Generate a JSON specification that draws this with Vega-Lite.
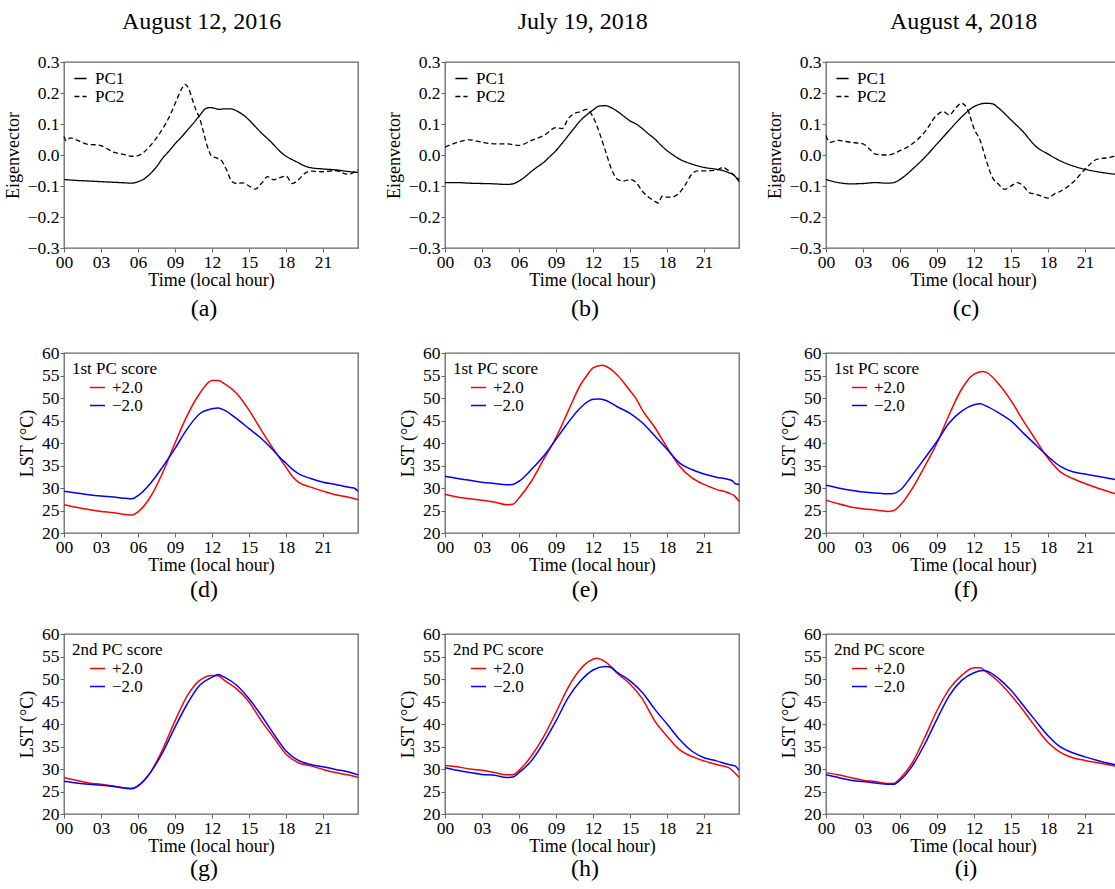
{
"$schema":"https://vega.github.io/schema/vega-lite/v6.json",
"padding":{"left":3,"top":10,"right":0,"bottom":0},
"datasets":{
"a":[
{"h":0,"v":-0.079,"s":"PC1"},{"h":1,"v":-0.082,"s":"PC1"},{"h":2,"v":-0.084,"s":"PC1"},{"h":3,"v":-0.086,"s":"PC1"},{"h":4,"v":-0.088,"s":"PC1"},{"h":5,"v":-0.09,"s":"PC1"},{"h":5.5,"v":-0.091,"s":"PC1"},{"h":6,"v":-0.086,"s":"PC1"},{"h":6.5,"v":-0.077,"s":"PC1"},{"h":7,"v":-0.06,"s":"PC1"},{"h":7.5,"v":-0.038,"s":"PC1"},{"h":8,"v":-0.01,"s":"PC1"},{"h":8.5,"v":0.012,"s":"PC1"},{"h":9,"v":0.036,"s":"PC1"},{"h":9.5,"v":0.057,"s":"PC1"},{"h":10,"v":0.08,"s":"PC1"},{"h":10.5,"v":0.103,"s":"PC1"},{"h":11,"v":0.128,"s":"PC1"},{"h":11.5,"v":0.15,"s":"PC1"},{"h":11.8,"v":0.153,"s":"PC1"},{"h":12.2,"v":0.151,"s":"PC1"},{"h":12.6,"v":0.147,"s":"PC1"},{"h":13,"v":0.149,"s":"PC1"},{"h":13.5,"v":0.149,"s":"PC1"},{"h":14,"v":0.142,"s":"PC1"},{"h":14.5,"v":0.13,"s":"PC1"},{"h":15,"v":0.113,"s":"PC1"},{"h":15.5,"v":0.092,"s":"PC1"},{"h":16,"v":0.071,"s":"PC1"},{"h":16.5,"v":0.053,"s":"PC1"},{"h":17,"v":0.033,"s":"PC1"},{"h":17.5,"v":0.012,"s":"PC1"},{"h":18,"v":-0.004,"s":"PC1"},{"h":18.5,"v":-0.015,"s":"PC1"},{"h":19,"v":-0.025,"s":"PC1"},{"h":19.5,"v":-0.035,"s":"PC1"},{"h":20,"v":-0.041,"s":"PC1"},{"h":21,"v":-0.045,"s":"PC1"},{"h":22,"v":-0.048,"s":"PC1"},{"h":23,"v":-0.053,"s":"PC1"},{"h":23.833,"v":-0.056,"s":"PC1"},
{"h":0,"v":0.06,"s":"PC2"},{"h":0.2,"v":0.045,"s":"PC2"},{"h":0.5,"v":0.055,"s":"PC2"},{"h":1,"v":0.049,"s":"PC2"},{"h":1.5,"v":0.04,"s":"PC2"},{"h":2,"v":0.034,"s":"PC2"},{"h":2.5,"v":0.033,"s":"PC2"},{"h":3,"v":0.03,"s":"PC2"},{"h":3.5,"v":0.02,"s":"PC2"},{"h":4,"v":0.009,"s":"PC2"},{"h":4.5,"v":0.005,"s":"PC2"},{"h":5,"v":0.0,"s":"PC2"},{"h":5.5,"v":-0.004,"s":"PC2"},{"h":6,"v":-0.002,"s":"PC2"},{"h":6.5,"v":0.01,"s":"PC2"},{"h":7,"v":0.03,"s":"PC2"},{"h":7.5,"v":0.055,"s":"PC2"},{"h":8,"v":0.085,"s":"PC2"},{"h":8.5,"v":0.12,"s":"PC2"},{"h":9,"v":0.165,"s":"PC2"},{"h":9.5,"v":0.21,"s":"PC2"},{"h":9.8,"v":0.228,"s":"PC2"},{"h":10.1,"v":0.215,"s":"PC2"},{"h":10.4,"v":0.18,"s":"PC2"},{"h":10.7,"v":0.145,"s":"PC2"},{"h":11,"v":0.118,"s":"PC2"},{"h":11.3,"v":0.075,"s":"PC2"},{"h":11.6,"v":0.03,"s":"PC2"},{"h":12,"v":-0.005,"s":"PC2"},{"h":12.4,"v":-0.01,"s":"PC2"},{"h":12.8,"v":-0.02,"s":"PC2"},{"h":13.2,"v":-0.05,"s":"PC2"},{"h":13.6,"v":-0.085,"s":"PC2"},{"h":14,"v":-0.092,"s":"PC2"},{"h":14.5,"v":-0.09,"s":"PC2"},{"h":15,"v":-0.1,"s":"PC2"},{"h":15.5,"v":-0.11,"s":"PC2"},{"h":16,"v":-0.092,"s":"PC2"},{"h":16.5,"v":-0.07,"s":"PC2"},{"h":17,"v":-0.08,"s":"PC2"},{"h":17.5,"v":-0.073,"s":"PC2"},{"h":18,"v":-0.068,"s":"PC2"},{"h":18.5,"v":-0.092,"s":"PC2"},{"h":19,"v":-0.08,"s":"PC2"},{"h":19.5,"v":-0.06,"s":"PC2"},{"h":20,"v":-0.052,"s":"PC2"},{"h":21,"v":-0.054,"s":"PC2"},{"h":22,"v":-0.05,"s":"PC2"},{"h":23,"v":-0.062,"s":"PC2"},{"h":23.833,"v":-0.048,"s":"PC2"}
],
"b":[
{"h":0,"v":-0.089,"s":"PC1"},{"h":1,"v":-0.089,"s":"PC1"},{"h":2,"v":-0.091,"s":"PC1"},{"h":3,"v":-0.092,"s":"PC1"},{"h":4,"v":-0.093,"s":"PC1"},{"h":5,"v":-0.095,"s":"PC1"},{"h":5.5,"v":-0.093,"s":"PC1"},{"h":6,"v":-0.084,"s":"PC1"},{"h":6.5,"v":-0.07,"s":"PC1"},{"h":7,"v":-0.053,"s":"PC1"},{"h":7.5,"v":-0.038,"s":"PC1"},{"h":8,"v":-0.024,"s":"PC1"},{"h":8.5,"v":-0.005,"s":"PC1"},{"h":9,"v":0.014,"s":"PC1"},{"h":9.5,"v":0.038,"s":"PC1"},{"h":10,"v":0.063,"s":"PC1"},{"h":10.5,"v":0.088,"s":"PC1"},{"h":11,"v":0.112,"s":"PC1"},{"h":11.5,"v":0.13,"s":"PC1"},{"h":12,"v":0.145,"s":"PC1"},{"h":12.5,"v":0.158,"s":"PC1"},{"h":13,"v":0.159,"s":"PC1"},{"h":13.5,"v":0.152,"s":"PC1"},{"h":14,"v":0.14,"s":"PC1"},{"h":14.5,"v":0.125,"s":"PC1"},{"h":15,"v":0.11,"s":"PC1"},{"h":15.5,"v":0.1,"s":"PC1"},{"h":16,"v":0.085,"s":"PC1"},{"h":16.5,"v":0.068,"s":"PC1"},{"h":17,"v":0.052,"s":"PC1"},{"h":17.5,"v":0.032,"s":"PC1"},{"h":18,"v":0.014,"s":"PC1"},{"h":18.5,"v":0.0,"s":"PC1"},{"h":19,"v":-0.013,"s":"PC1"},{"h":19.5,"v":-0.022,"s":"PC1"},{"h":20,"v":-0.029,"s":"PC1"},{"h":20.5,"v":-0.035,"s":"PC1"},{"h":21,"v":-0.04,"s":"PC1"},{"h":22,"v":-0.046,"s":"PC1"},{"h":22.5,"v":-0.05,"s":"PC1"},{"h":23,"v":-0.057,"s":"PC1"},{"h":23.5,"v":-0.068,"s":"PC1"},{"h":23.833,"v":-0.086,"s":"PC1"},
{"h":0,"v":0.025,"s":"PC2"},{"h":1,"v":0.041,"s":"PC2"},{"h":2,"v":0.049,"s":"PC2"},{"h":3,"v":0.041,"s":"PC2"},{"h":4,"v":0.036,"s":"PC2"},{"h":5,"v":0.036,"s":"PC2"},{"h":6,"v":0.031,"s":"PC2"},{"h":7,"v":0.047,"s":"PC2"},{"h":8,"v":0.063,"s":"PC2"},{"h":9,"v":0.088,"s":"PC2"},{"h":9.5,"v":0.085,"s":"PC2"},{"h":10,"v":0.118,"s":"PC2"},{"h":10.5,"v":0.134,"s":"PC2"},{"h":11,"v":0.14,"s":"PC2"},{"h":11.5,"v":0.147,"s":"PC2"},{"h":12,"v":0.123,"s":"PC2"},{"h":12.5,"v":0.074,"s":"PC2"},{"h":13,"v":0.014,"s":"PC2"},{"h":13.5,"v":-0.046,"s":"PC2"},{"h":14,"v":-0.079,"s":"PC2"},{"h":14.5,"v":-0.084,"s":"PC2"},{"h":15,"v":-0.079,"s":"PC2"},{"h":15.5,"v":-0.089,"s":"PC2"},{"h":16,"v":-0.117,"s":"PC2"},{"h":17,"v":-0.149,"s":"PC2"},{"h":17.3,"v":-0.155,"s":"PC2"},{"h":17.6,"v":-0.133,"s":"PC2"},{"h":18,"v":-0.136,"s":"PC2"},{"h":18.5,"v":-0.135,"s":"PC2"},{"h":19,"v":-0.122,"s":"PC2"},{"h":19.5,"v":-0.095,"s":"PC2"},{"h":20,"v":-0.062,"s":"PC2"},{"h":20.5,"v":-0.051,"s":"PC2"},{"h":21,"v":-0.051,"s":"PC2"},{"h":22,"v":-0.049,"s":"PC2"},{"h":22.5,"v":-0.04,"s":"PC2"},{"h":23,"v":-0.051,"s":"PC2"},{"h":23.5,"v":-0.068,"s":"PC2"},{"h":23.833,"v":-0.079,"s":"PC2"}
],
"c":[
{"h":0,"v":-0.079,"s":"PC1"},{"h":1,"v":-0.089,"s":"PC1"},{"h":2,"v":-0.093,"s":"PC1"},{"h":3,"v":-0.092,"s":"PC1"},{"h":4,"v":-0.089,"s":"PC1"},{"h":5,"v":-0.091,"s":"PC1"},{"h":5.5,"v":-0.089,"s":"PC1"},{"h":6,"v":-0.079,"s":"PC1"},{"h":7,"v":-0.046,"s":"PC1"},{"h":8,"v":-0.008,"s":"PC1"},{"h":9,"v":0.036,"s":"PC1"},{"h":10,"v":0.08,"s":"PC1"},{"h":11,"v":0.123,"s":"PC1"},{"h":12,"v":0.156,"s":"PC1"},{"h":12.5,"v":0.164,"s":"PC1"},{"h":13,"v":0.167,"s":"PC1"},{"h":13.5,"v":0.165,"s":"PC1"},{"h":14,"v":0.151,"s":"PC1"},{"h":15,"v":0.113,"s":"PC1"},{"h":16,"v":0.074,"s":"PC1"},{"h":17,"v":0.028,"s":"PC1"},{"h":18,"v":0.003,"s":"PC1"},{"h":19,"v":-0.019,"s":"PC1"},{"h":20,"v":-0.035,"s":"PC1"},{"h":21,"v":-0.046,"s":"PC1"},{"h":22,"v":-0.054,"s":"PC1"},{"h":23,"v":-0.06,"s":"PC1"},{"h":23.833,"v":-0.064,"s":"PC1"},
{"h":0,"v":0.063,"s":"PC2"},{"h":0.3,"v":0.041,"s":"PC2"},{"h":1,"v":0.047,"s":"PC2"},{"h":2,"v":0.041,"s":"PC2"},{"h":3,"v":0.036,"s":"PC2"},{"h":3.5,"v":0.02,"s":"PC2"},{"h":4,"v":0.003,"s":"PC2"},{"h":5,"v":0.0,"s":"PC2"},{"h":6,"v":0.014,"s":"PC2"},{"h":7,"v":0.036,"s":"PC2"},{"h":8,"v":0.074,"s":"PC2"},{"h":9,"v":0.129,"s":"PC2"},{"h":9.5,"v":0.14,"s":"PC2"},{"h":10,"v":0.129,"s":"PC2"},{"h":10.5,"v":0.151,"s":"PC2"},{"h":11,"v":0.167,"s":"PC2"},{"h":11.5,"v":0.145,"s":"PC2"},{"h":12,"v":0.085,"s":"PC2"},{"h":12.5,"v":0.047,"s":"PC2"},{"h":13,"v":-0.019,"s":"PC2"},{"h":13.5,"v":-0.073,"s":"PC2"},{"h":14,"v":-0.095,"s":"PC2"},{"h":14.5,"v":-0.111,"s":"PC2"},{"h":15,"v":-0.1,"s":"PC2"},{"h":15.5,"v":-0.089,"s":"PC2"},{"h":16,"v":-0.1,"s":"PC2"},{"h":16.5,"v":-0.122,"s":"PC2"},{"h":17,"v":-0.126,"s":"PC2"},{"h":17.5,"v":-0.133,"s":"PC2"},{"h":18,"v":-0.139,"s":"PC2"},{"h":18.5,"v":-0.126,"s":"PC2"},{"h":19,"v":-0.117,"s":"PC2"},{"h":20,"v":-0.089,"s":"PC2"},{"h":21,"v":-0.046,"s":"PC2"},{"h":22,"v":-0.013,"s":"PC2"},{"h":23,"v":-0.008,"s":"PC2"},{"h":23.833,"v":0.003,"s":"PC2"}
],
"d":[
{"h":0,"v":26.3,"s":"+2.0"},{"h":1,"v":25.7,"s":"+2.0"},{"h":2,"v":25.2,"s":"+2.0"},{"h":3,"v":24.8,"s":"+2.0"},{"h":4,"v":24.5,"s":"+2.0"},{"h":5,"v":24.1,"s":"+2.0"},{"h":5.5,"v":24.0,"s":"+2.0"},{"h":6,"v":24.7,"s":"+2.0"},{"h":7,"v":28.0,"s":"+2.0"},{"h":8,"v":33.4,"s":"+2.0"},{"h":9,"v":40.0,"s":"+2.0"},{"h":10,"v":46.2,"s":"+2.0"},{"h":11,"v":51.0,"s":"+2.0"},{"h":12,"v":53.9,"s":"+2.0"},{"h":12.5,"v":53.9,"s":"+2.0"},{"h":13,"v":53.2,"s":"+2.0"},{"h":14,"v":51.0,"s":"+2.0"},{"h":15,"v":47.3,"s":"+2.0"},{"h":16,"v":42.8,"s":"+2.0"},{"h":17,"v":38.6,"s":"+2.0"},{"h":17.5,"v":36.6,"s":"+2.0"},{"h":18,"v":34.6,"s":"+2.0"},{"h":18.5,"v":32.6,"s":"+2.0"},{"h":19,"v":31.3,"s":"+2.0"},{"h":20,"v":30.2,"s":"+2.0"},{"h":21,"v":29.3,"s":"+2.0"},{"h":22,"v":28.5,"s":"+2.0"},{"h":23,"v":28.0,"s":"+2.0"},{"h":23.833,"v":27.4,"s":"+2.0"},
{"h":0,"v":29.3,"s":"−2.0"},{"h":1,"v":28.9,"s":"−2.0"},{"h":2,"v":28.5,"s":"−2.0"},{"h":3,"v":28.2,"s":"−2.0"},{"h":4,"v":28.0,"s":"−2.0"},{"h":5,"v":27.7,"s":"−2.0"},{"h":5.5,"v":27.6,"s":"−2.0"},{"h":6,"v":28.3,"s":"−2.0"},{"h":7,"v":31.0,"s":"−2.0"},{"h":8,"v":34.7,"s":"−2.0"},{"h":9,"v":38.8,"s":"−2.0"},{"h":10,"v":43.2,"s":"−2.0"},{"h":11,"v":46.5,"s":"−2.0"},{"h":12,"v":47.6,"s":"−2.0"},{"h":12.5,"v":47.8,"s":"−2.0"},{"h":13,"v":47.3,"s":"−2.0"},{"h":14,"v":45.4,"s":"−2.0"},{"h":15,"v":43.2,"s":"−2.0"},{"h":16,"v":41.0,"s":"−2.0"},{"h":17,"v":38.3,"s":"−2.0"},{"h":17.5,"v":36.8,"s":"−2.0"},{"h":18,"v":35.5,"s":"−2.0"},{"h":18.5,"v":34.2,"s":"−2.0"},{"h":19,"v":33.2,"s":"−2.0"},{"h":20,"v":32.1,"s":"−2.0"},{"h":21,"v":31.3,"s":"−2.0"},{"h":22,"v":30.8,"s":"−2.0"},{"h":23,"v":30.2,"s":"−2.0"},{"h":23.5,"v":30.0,"s":"−2.0"},{"h":23.833,"v":29.3,"s":"−2.0"}
],
"e":[
{"h":0,"v":28.6,"s":"+2.0"},{"h":1,"v":28.0,"s":"+2.0"},{"h":2,"v":27.6,"s":"+2.0"},{"h":3,"v":27.3,"s":"+2.0"},{"h":4,"v":26.9,"s":"+2.0"},{"h":5,"v":26.3,"s":"+2.0"},{"h":5.5,"v":26.4,"s":"+2.0"},{"h":6,"v":27.8,"s":"+2.0"},{"h":7,"v":31.5,"s":"+2.0"},{"h":8,"v":36.4,"s":"+2.0"},{"h":9,"v":41.2,"s":"+2.0"},{"h":10,"v":47.2,"s":"+2.0"},{"h":11,"v":53.0,"s":"+2.0"},{"h":11.5,"v":55.0,"s":"+2.0"},{"h":12,"v":56.7,"s":"+2.0"},{"h":12.7,"v":57.3,"s":"+2.0"},{"h":13,"v":57.1,"s":"+2.0"},{"h":14,"v":55.0,"s":"+2.0"},{"h":15,"v":51.6,"s":"+2.0"},{"h":15.5,"v":49.8,"s":"+2.0"},{"h":16,"v":47.3,"s":"+2.0"},{"h":17,"v":43.5,"s":"+2.0"},{"h":18,"v":39.0,"s":"+2.0"},{"h":19,"v":34.9,"s":"+2.0"},{"h":20,"v":32.3,"s":"+2.0"},{"h":21,"v":30.8,"s":"+2.0"},{"h":22,"v":29.7,"s":"+2.0"},{"h":23,"v":28.9,"s":"+2.0"},{"h":23.5,"v":28.2,"s":"+2.0"},{"h":23.833,"v":27.0,"s":"+2.0"},
{"h":0,"v":32.6,"s":"−2.0"},{"h":1,"v":32.1,"s":"−2.0"},{"h":2,"v":31.7,"s":"−2.0"},{"h":3,"v":31.3,"s":"−2.0"},{"h":4,"v":31.0,"s":"−2.0"},{"h":5,"v":30.7,"s":"−2.0"},{"h":5.5,"v":30.8,"s":"−2.0"},{"h":6,"v":31.5,"s":"−2.0"},{"h":7,"v":34.1,"s":"−2.0"},{"h":8,"v":37.1,"s":"−2.0"},{"h":9,"v":40.8,"s":"−2.0"},{"h":10,"v":44.6,"s":"−2.0"},{"h":11,"v":47.9,"s":"−2.0"},{"h":12,"v":49.7,"s":"−2.0"},{"h":12.5,"v":49.8,"s":"−2.0"},{"h":13,"v":49.5,"s":"−2.0"},{"h":14,"v":48.0,"s":"−2.0"},{"h":15,"v":46.6,"s":"−2.0"},{"h":16,"v":44.5,"s":"−2.0"},{"h":17,"v":41.6,"s":"−2.0"},{"h":18,"v":38.6,"s":"−2.0"},{"h":19,"v":35.6,"s":"−2.0"},{"h":20,"v":34.1,"s":"−2.0"},{"h":21,"v":33.1,"s":"−2.0"},{"h":22,"v":32.4,"s":"−2.0"},{"h":23,"v":31.9,"s":"−2.0"},{"h":23.3,"v":31.6,"s":"−2.0"},{"h":23.5,"v":31.0,"s":"−2.0"},{"h":23.833,"v":30.8,"s":"−2.0"}
],
"f":[
{"h":0,"v":27.3,"s":"+2.0"},{"h":1,"v":26.5,"s":"+2.0"},{"h":2,"v":25.8,"s":"+2.0"},{"h":3,"v":25.4,"s":"+2.0"},{"h":4,"v":25.1,"s":"+2.0"},{"h":5,"v":24.8,"s":"+2.0"},{"h":5.5,"v":25.0,"s":"+2.0"},{"h":6,"v":26.1,"s":"+2.0"},{"h":7,"v":29.9,"s":"+2.0"},{"h":8,"v":34.8,"s":"+2.0"},{"h":9,"v":40.0,"s":"+2.0"},{"h":10,"v":46.4,"s":"+2.0"},{"h":11,"v":52.0,"s":"+2.0"},{"h":12,"v":55.3,"s":"+2.0"},{"h":12.7,"v":55.9,"s":"+2.0"},{"h":13,"v":55.7,"s":"+2.0"},{"h":14,"v":53.1,"s":"+2.0"},{"h":15,"v":49.4,"s":"+2.0"},{"h":16,"v":44.9,"s":"+2.0"},{"h":17,"v":40.7,"s":"+2.0"},{"h":18,"v":36.6,"s":"+2.0"},{"h":19,"v":33.6,"s":"+2.0"},{"h":20,"v":32.1,"s":"+2.0"},{"h":21,"v":31.0,"s":"+2.0"},{"h":22,"v":30.0,"s":"+2.0"},{"h":23,"v":29.1,"s":"+2.0"},{"h":23.833,"v":28.4,"s":"+2.0"},
{"h":0,"v":30.6,"s":"−2.0"},{"h":1,"v":30.0,"s":"−2.0"},{"h":2,"v":29.5,"s":"−2.0"},{"h":3,"v":29.1,"s":"−2.0"},{"h":4,"v":28.9,"s":"−2.0"},{"h":5,"v":28.7,"s":"−2.0"},{"h":5.5,"v":28.8,"s":"−2.0"},{"h":6,"v":29.5,"s":"−2.0"},{"h":7,"v":32.9,"s":"−2.0"},{"h":8,"v":36.6,"s":"−2.0"},{"h":9,"v":40.4,"s":"−2.0"},{"h":10,"v":44.5,"s":"−2.0"},{"h":11,"v":47.1,"s":"−2.0"},{"h":12,"v":48.5,"s":"−2.0"},{"h":12.5,"v":48.7,"s":"−2.0"},{"h":13,"v":48.2,"s":"−2.0"},{"h":14,"v":46.7,"s":"−2.0"},{"h":15,"v":44.9,"s":"−2.0"},{"h":16,"v":42.2,"s":"−2.0"},{"h":17,"v":39.6,"s":"−2.0"},{"h":18,"v":37.0,"s":"−2.0"},{"h":19,"v":34.8,"s":"−2.0"},{"h":20,"v":33.6,"s":"−2.0"},{"h":21,"v":33.1,"s":"−2.0"},{"h":22,"v":32.6,"s":"−2.0"},{"h":23,"v":32.1,"s":"−2.0"},{"h":23.833,"v":31.7,"s":"−2.0"}
],
"g":[
{"h":0,"v":28.1,"s":"+2.0"},{"h":1,"v":27.5,"s":"+2.0"},{"h":2,"v":26.9,"s":"+2.0"},{"h":3,"v":26.6,"s":"+2.0"},{"h":4,"v":26.2,"s":"+2.0"},{"h":5,"v":25.8,"s":"+2.0"},{"h":5.5,"v":25.7,"s":"+2.0"},{"h":6,"v":26.2,"s":"+2.0"},{"h":7,"v":29.2,"s":"+2.0"},{"h":8,"v":34.4,"s":"+2.0"},{"h":9,"v":40.7,"s":"+2.0"},{"h":10,"v":46.3,"s":"+2.0"},{"h":11,"v":49.7,"s":"+2.0"},{"h":12,"v":50.8,"s":"+2.0"},{"h":12.5,"v":50.7,"s":"+2.0"},{"h":13,"v":49.7,"s":"+2.0"},{"h":14,"v":47.8,"s":"+2.0"},{"h":15,"v":44.9,"s":"+2.0"},{"h":16,"v":40.7,"s":"+2.0"},{"h":17,"v":37.0,"s":"+2.0"},{"h":18,"v":33.3,"s":"+2.0"},{"h":19,"v":31.4,"s":"+2.0"},{"h":20,"v":30.7,"s":"+2.0"},{"h":21,"v":29.9,"s":"+2.0"},{"h":22,"v":29.2,"s":"+2.0"},{"h":23,"v":28.7,"s":"+2.0"},{"h":23.833,"v":28.1,"s":"+2.0"},
{"h":0,"v":27.3,"s":"−2.0"},{"h":1,"v":26.9,"s":"−2.0"},{"h":2,"v":26.6,"s":"−2.0"},{"h":3,"v":26.4,"s":"−2.0"},{"h":4,"v":26.1,"s":"−2.0"},{"h":5,"v":25.7,"s":"−2.0"},{"h":5.5,"v":25.6,"s":"−2.0"},{"h":6,"v":26.3,"s":"−2.0"},{"h":7,"v":29.2,"s":"−2.0"},{"h":8,"v":33.7,"s":"−2.0"},{"h":9,"v":39.3,"s":"−2.0"},{"h":10,"v":44.5,"s":"−2.0"},{"h":11,"v":48.6,"s":"−2.0"},{"h":12,"v":50.4,"s":"−2.0"},{"h":12.5,"v":51.0,"s":"−2.0"},{"h":13,"v":50.4,"s":"−2.0"},{"h":14,"v":48.6,"s":"−2.0"},{"h":15,"v":45.6,"s":"−2.0"},{"h":16,"v":41.9,"s":"−2.0"},{"h":17,"v":37.8,"s":"−2.0"},{"h":18,"v":34.0,"s":"−2.0"},{"h":19,"v":31.9,"s":"−2.0"},{"h":20,"v":31.0,"s":"−2.0"},{"h":21,"v":30.5,"s":"−2.0"},{"h":22,"v":29.9,"s":"−2.0"},{"h":23,"v":29.4,"s":"−2.0"},{"h":23.833,"v":28.7,"s":"−2.0"}
],
"h":[
{"h":0,"v":30.8,"s":"+2.0"},{"h":1,"v":30.5,"s":"+2.0"},{"h":2,"v":30.0,"s":"+2.0"},{"h":3,"v":29.7,"s":"+2.0"},{"h":4,"v":29.2,"s":"+2.0"},{"h":5,"v":28.7,"s":"+2.0"},{"h":5.5,"v":28.7,"s":"+2.0"},{"h":6,"v":29.7,"s":"+2.0"},{"h":7,"v":32.9,"s":"+2.0"},{"h":8,"v":37.2,"s":"+2.0"},{"h":9,"v":42.6,"s":"+2.0"},{"h":10,"v":48.2,"s":"+2.0"},{"h":11,"v":52.3,"s":"+2.0"},{"h":12,"v":54.4,"s":"+2.0"},{"h":12.3,"v":54.6,"s":"+2.0"},{"h":13,"v":53.8,"s":"+2.0"},{"h":14,"v":51.2,"s":"+2.0"},{"h":15,"v":48.9,"s":"+2.0"},{"h":16,"v":45.6,"s":"+2.0"},{"h":17,"v":40.7,"s":"+2.0"},{"h":18,"v":37.3,"s":"+2.0"},{"h":19,"v":34.3,"s":"+2.0"},{"h":20,"v":32.8,"s":"+2.0"},{"h":21,"v":31.8,"s":"+2.0"},{"h":22,"v":31.0,"s":"+2.0"},{"h":23,"v":30.3,"s":"+2.0"},{"h":23.5,"v":29.1,"s":"+2.0"},{"h":23.833,"v":28.2,"s":"+2.0"},
{"h":0,"v":30.3,"s":"−2.0"},{"h":1,"v":29.7,"s":"−2.0"},{"h":2,"v":29.2,"s":"−2.0"},{"h":3,"v":28.8,"s":"−2.0"},{"h":4,"v":28.6,"s":"−2.0"},{"h":5,"v":28.1,"s":"−2.0"},{"h":5.5,"v":28.2,"s":"−2.0"},{"h":6,"v":29.2,"s":"−2.0"},{"h":7,"v":31.8,"s":"−2.0"},{"h":8,"v":35.9,"s":"−2.0"},{"h":9,"v":40.7,"s":"−2.0"},{"h":10,"v":45.9,"s":"−2.0"},{"h":11,"v":49.6,"s":"−2.0"},{"h":12,"v":52.0,"s":"−2.0"},{"h":13,"v":52.8,"s":"−2.0"},{"h":13.5,"v":52.5,"s":"−2.0"},{"h":14,"v":51.4,"s":"−2.0"},{"h":15,"v":49.6,"s":"−2.0"},{"h":16,"v":47.0,"s":"−2.0"},{"h":17,"v":43.3,"s":"−2.0"},{"h":18,"v":40.0,"s":"−2.0"},{"h":19,"v":36.6,"s":"−2.0"},{"h":20,"v":34.0,"s":"−2.0"},{"h":21,"v":32.5,"s":"−2.0"},{"h":22,"v":31.8,"s":"−2.0"},{"h":23,"v":31.0,"s":"−2.0"},{"h":23.5,"v":30.7,"s":"−2.0"},{"h":23.833,"v":29.7,"s":"−2.0"}
],
"i":[
{"h":0,"v":29.2,"s":"+2.0"},{"h":1,"v":28.7,"s":"+2.0"},{"h":2,"v":28.1,"s":"+2.0"},{"h":3,"v":27.5,"s":"+2.0"},{"h":4,"v":27.2,"s":"+2.0"},{"h":5,"v":26.8,"s":"+2.0"},{"h":5.5,"v":26.8,"s":"+2.0"},{"h":6,"v":27.9,"s":"+2.0"},{"h":7,"v":31.4,"s":"+2.0"},{"h":8,"v":37.0,"s":"+2.0"},{"h":9,"v":43.0,"s":"+2.0"},{"h":10,"v":47.8,"s":"+2.0"},{"h":11,"v":50.8,"s":"+2.0"},{"h":12,"v":52.5,"s":"+2.0"},{"h":12.5,"v":52.5,"s":"+2.0"},{"h":13,"v":51.6,"s":"+2.0"},{"h":14,"v":49.4,"s":"+2.0"},{"h":15,"v":46.4,"s":"+2.0"},{"h":16,"v":43.0,"s":"+2.0"},{"h":17,"v":39.3,"s":"+2.0"},{"h":18,"v":35.9,"s":"+2.0"},{"h":19,"v":33.7,"s":"+2.0"},{"h":20,"v":32.5,"s":"+2.0"},{"h":21,"v":31.9,"s":"+2.0"},{"h":22,"v":31.4,"s":"+2.0"},{"h":23,"v":30.9,"s":"+2.0"},{"h":23.833,"v":30.4,"s":"+2.0"},
{"h":0,"v":28.7,"s":"−2.0"},{"h":1,"v":28.1,"s":"−2.0"},{"h":2,"v":27.5,"s":"−2.0"},{"h":3,"v":27.2,"s":"−2.0"},{"h":4,"v":26.9,"s":"−2.0"},{"h":5,"v":26.6,"s":"−2.0"},{"h":5.5,"v":26.6,"s":"−2.0"},{"h":6,"v":27.5,"s":"−2.0"},{"h":7,"v":30.7,"s":"−2.0"},{"h":8,"v":35.5,"s":"−2.0"},{"h":9,"v":41.1,"s":"−2.0"},{"h":10,"v":46.3,"s":"−2.0"},{"h":11,"v":49.7,"s":"−2.0"},{"h":12,"v":51.4,"s":"−2.0"},{"h":12.7,"v":51.9,"s":"−2.0"},{"h":13,"v":51.8,"s":"−2.0"},{"h":14,"v":50.1,"s":"−2.0"},{"h":15,"v":47.5,"s":"−2.0"},{"h":16,"v":44.1,"s":"−2.0"},{"h":17,"v":40.7,"s":"−2.0"},{"h":18,"v":37.4,"s":"−2.0"},{"h":19,"v":34.9,"s":"−2.0"},{"h":20,"v":33.6,"s":"−2.0"},{"h":21,"v":32.7,"s":"−2.0"},{"h":22,"v":31.9,"s":"−2.0"},{"h":23,"v":31.2,"s":"−2.0"},{"h":23.833,"v":30.7,"s":"−2.0"}
]
},
"spacing":22,
"resolve":{"scale":{"color":"independent","strokeDash":"independent","x":"independent","y":"independent"}},
"hconcat":[
{"title":{"text":"August 12, 2016","dx":19},"spacing":21,
 "resolve":{"scale":{"color":"independent","strokeDash":"independent","x":"independent","y":"independent"}},
 "vconcat":[
 {"width":294,"height":186,"data":{"name":"a"},"title":{"text":"(a)","orient":"bottom","offset":7,"dx":-7,"frame":"group","fontSize":24},
  "mark":{"type":"line","interpolate":"monotone","color":"black","strokeWidth":1.3},
  "encoding":{
   "x":{"field":"h","type":"quantitative","scale":{"domain":[0,23.833],"nice":false,"zero":false},"axis":{"values":[0,3,6,9,12,15,18,21],"labelExpr":"datum.value < 10 ? '0' + datum.value : '' + datum.value","title":"Time (local hour)"}},
   "y":{"field":"v","type":"quantitative","scale":{"domain":[-0.3,0.3],"nice":false,"zero":false},"axis":{"values":[-0.3,-0.2,-0.1,0,0.1,0.2,0.3],"format":".1f","title":"Eigenvector"}},
   "strokeDash":{"field":"s","type":"nominal","scale":{"domain":["PC1","PC2"],"range":[[1,0],[5,3]]},"legend":{"title":null,"symbolSize":150,"symbolStrokeColor":"black","offset":8}}}},
 {"width":294,"height":180,"data":{"name":"d"},"title":{"text":"(d)","orient":"bottom","offset":3,"dx":-7,"frame":"group","fontSize":24},
  "mark":{"type":"line","interpolate":"monotone","strokeWidth":1.5},
  "encoding":{
   "x":{"field":"h","type":"quantitative","scale":{"domain":[0,23.833],"nice":false,"zero":false},"axis":{"values":[0,3,6,9,12,15,18,21],"labelExpr":"datum.value < 10 ? '0' + datum.value : '' + datum.value","title":"Time (local hour)"}},
   "y":{"field":"v","type":"quantitative","scale":{"domain":[20,60],"nice":false,"zero":false},"axis":{"values":[20,25,30,35,40,45,50,55,60],"title":"LST (°C)"}},
   "color":{"field":"s","type":"nominal","scale":{"domain":["+2.0","−2.0"],"range":["#ff0000","#0000ff"]},"legend":{"title":"1st PC score","symbolSize":225,"symbolOffset":17}}}},
 {"width":294,"height":180,"data":{"name":"g"},"title":{"text":"(g)","orient":"bottom","offset":1,"dx":-7,"frame":"group","fontSize":24},
  "mark":{"type":"line","interpolate":"monotone","strokeWidth":1.5},
  "encoding":{
   "x":{"field":"h","type":"quantitative","scale":{"domain":[0,23.833],"nice":false,"zero":false},"axis":{"values":[0,3,6,9,12,15,18,21],"labelExpr":"datum.value < 10 ? '0' + datum.value : '' + datum.value","title":"Time (local hour)"}},
   "y":{"field":"v","type":"quantitative","scale":{"domain":[20,60],"nice":false,"zero":false},"axis":{"values":[20,25,30,35,40,45,50,55,60],"title":"LST (°C)"}},
   "color":{"field":"s","type":"nominal","scale":{"domain":["+2.0","−2.0"],"range":["#ff0000","#0000ff"]},"legend":{"title":"2nd PC score","symbolSize":225,"symbolOffset":17}}}}
 ]},
{"title":{"text":"July 19, 2018","dx":19},"spacing":21,
 "resolve":{"scale":{"color":"independent","strokeDash":"independent","x":"independent","y":"independent"}},
 "vconcat":[
 {"width":294,"height":186,"data":{"name":"b"},"title":{"text":"(b)","orient":"bottom","offset":7,"dx":-7,"frame":"group","fontSize":24},
  "mark":{"type":"line","interpolate":"monotone","color":"black","strokeWidth":1.3},
  "encoding":{
   "x":{"field":"h","type":"quantitative","scale":{"domain":[0,23.833],"nice":false,"zero":false},"axis":{"values":[0,3,6,9,12,15,18,21],"labelExpr":"datum.value < 10 ? '0' + datum.value : '' + datum.value","title":"Time (local hour)"}},
   "y":{"field":"v","type":"quantitative","scale":{"domain":[-0.3,0.3],"nice":false,"zero":false},"axis":{"values":[-0.3,-0.2,-0.1,0,0.1,0.2,0.3],"format":".1f","title":"Eigenvector"}},
   "strokeDash":{"field":"s","type":"nominal","scale":{"domain":["PC1","PC2"],"range":[[1,0],[5,3]]},"legend":{"title":null,"symbolSize":150,"symbolStrokeColor":"black","offset":8}}}},
 {"width":294,"height":180,"data":{"name":"e"},"title":{"text":"(e)","orient":"bottom","offset":3,"dx":-7,"frame":"group","fontSize":24},
  "mark":{"type":"line","interpolate":"monotone","strokeWidth":1.5},
  "encoding":{
   "x":{"field":"h","type":"quantitative","scale":{"domain":[0,23.833],"nice":false,"zero":false},"axis":{"values":[0,3,6,9,12,15,18,21],"labelExpr":"datum.value < 10 ? '0' + datum.value : '' + datum.value","title":"Time (local hour)"}},
   "y":{"field":"v","type":"quantitative","scale":{"domain":[20,60],"nice":false,"zero":false},"axis":{"values":[20,25,30,35,40,45,50,55,60],"title":"LST (°C)"}},
   "color":{"field":"s","type":"nominal","scale":{"domain":["+2.0","−2.0"],"range":["#ff0000","#0000ff"]},"legend":{"title":"1st PC score","symbolSize":225,"symbolOffset":17}}}},
 {"width":294,"height":180,"data":{"name":"h"},"title":{"text":"(h)","orient":"bottom","offset":1,"dx":-7,"frame":"group","fontSize":24},
  "mark":{"type":"line","interpolate":"monotone","strokeWidth":1.5},
  "encoding":{
   "x":{"field":"h","type":"quantitative","scale":{"domain":[0,23.833],"nice":false,"zero":false},"axis":{"values":[0,3,6,9,12,15,18,21],"labelExpr":"datum.value < 10 ? '0' + datum.value : '' + datum.value","title":"Time (local hour)"}},
   "y":{"field":"v","type":"quantitative","scale":{"domain":[20,60],"nice":false,"zero":false},"axis":{"values":[20,25,30,35,40,45,50,55,60],"title":"LST (°C)"}},
   "color":{"field":"s","type":"nominal","scale":{"domain":["+2.0","−2.0"],"range":["#ff0000","#0000ff"]},"legend":{"title":"2nd PC score","symbolSize":225,"symbolOffset":17}}}}
 ]},
{"title":{"text":"August 4, 2018","dx":19},"spacing":21,
 "resolve":{"scale":{"color":"independent","strokeDash":"independent","x":"independent","y":"independent"}},
 "vconcat":[
 {"width":294,"height":186,"data":{"name":"c"},"title":{"text":"(c)","orient":"bottom","offset":7,"dx":-7,"frame":"group","fontSize":24},
  "mark":{"type":"line","interpolate":"monotone","color":"black","strokeWidth":1.3},
  "encoding":{
   "x":{"field":"h","type":"quantitative","scale":{"domain":[0,23.833],"nice":false,"zero":false},"axis":{"values":[0,3,6,9,12,15,18,21],"labelExpr":"datum.value < 10 ? '0' + datum.value : '' + datum.value","title":"Time (local hour)"}},
   "y":{"field":"v","type":"quantitative","scale":{"domain":[-0.3,0.3],"nice":false,"zero":false},"axis":{"values":[-0.3,-0.2,-0.1,0,0.1,0.2,0.3],"format":".1f","title":"Eigenvector"}},
   "strokeDash":{"field":"s","type":"nominal","scale":{"domain":["PC1","PC2"],"range":[[1,0],[5,3]]},"legend":{"title":null,"symbolSize":150,"symbolStrokeColor":"black","offset":8}}}},
 {"width":294,"height":180,"data":{"name":"f"},"title":{"text":"(f)","orient":"bottom","offset":3,"dx":-7,"frame":"group","fontSize":24},
  "mark":{"type":"line","interpolate":"monotone","strokeWidth":1.5},
  "encoding":{
   "x":{"field":"h","type":"quantitative","scale":{"domain":[0,23.833],"nice":false,"zero":false},"axis":{"values":[0,3,6,9,12,15,18,21],"labelExpr":"datum.value < 10 ? '0' + datum.value : '' + datum.value","title":"Time (local hour)"}},
   "y":{"field":"v","type":"quantitative","scale":{"domain":[20,60],"nice":false,"zero":false},"axis":{"values":[20,25,30,35,40,45,50,55,60],"title":"LST (°C)"}},
   "color":{"field":"s","type":"nominal","scale":{"domain":["+2.0","−2.0"],"range":["#ff0000","#0000ff"]},"legend":{"title":"1st PC score","symbolSize":225,"symbolOffset":17}}}},
 {"width":294,"height":180,"data":{"name":"i"},"title":{"text":"(i)","orient":"bottom","offset":1,"dx":-7,"frame":"group","fontSize":24},
  "mark":{"type":"line","interpolate":"monotone","strokeWidth":1.5},
  "encoding":{
   "x":{"field":"h","type":"quantitative","scale":{"domain":[0,23.833],"nice":false,"zero":false},"axis":{"values":[0,3,6,9,12,15,18,21],"labelExpr":"datum.value < 10 ? '0' + datum.value : '' + datum.value","title":"Time (local hour)"}},
   "y":{"field":"v","type":"quantitative","scale":{"domain":[20,60],"nice":false,"zero":false},"axis":{"values":[20,25,30,35,40,45,50,55,60],"title":"LST (°C)"}},
   "color":{"field":"s","type":"nominal","scale":{"domain":["+2.0","−2.0"],"range":["#ff0000","#0000ff"]},"legend":{"title":"2nd PC score","symbolSize":225,"symbolOffset":17}}}}
 ]}
],
"config":{
 "font":"Liberation Serif",
 "background":"white",
 "view":{"stroke":"#666666","strokeWidth":1.3},
 "axis":{"grid":false,"domain":false,"ticks":true,"tickSize":4,"tickColor":"#666666","tickWidth":1,"labelFont":"Liberation Serif","titleFont":"Liberation Serif","labelFontSize":17.5,"titleFontSize":18,"titleFontWeight":"normal","labelColor":"#000000","titleColor":"#000000","labelPadding":1,"labelFlush":false,"labelOverlap":false},
 "axisX":{"titlePadding":1},
 "axisY":{"titlePadding":5},
 "legend":{"orient":"top-left","offset":8,"padding":0,"labelFont":"Liberation Serif","titleFont":"Liberation Serif","labelFontSize":17,"titleFontSize":17,"titleFontWeight":"normal","labelColor":"#000000","titleColor":"#000000","symbolType":"stroke","symbolStrokeWidth":1.5,"rowPadding":0,"labelOffset":6,"titlePadding":1},
 "title":{"font":"Liberation Serif","fontWeight":"normal","fontSize":24,"color":"#000000","anchor":"middle","offset":18}
}
}
